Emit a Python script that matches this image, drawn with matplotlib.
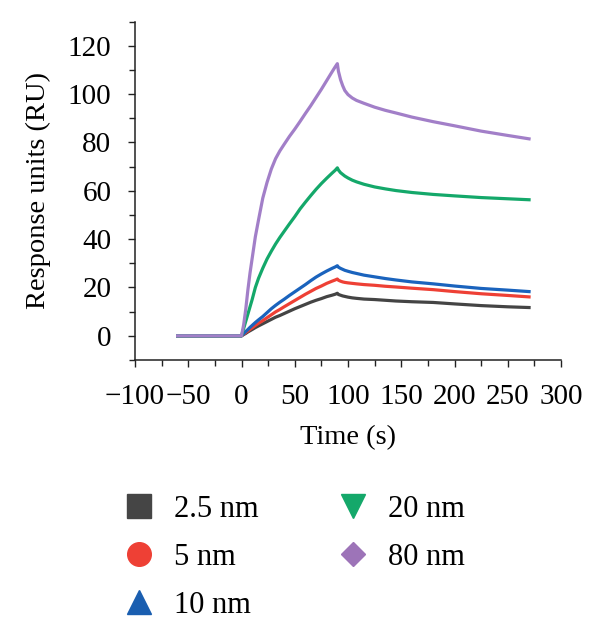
import matplotlib
matplotlib.use('Agg')
import matplotlib.pyplot as plt
from matplotlib.lines import Line2D
from matplotlib.ticker import MultipleLocator

# Sensorgram (time in s, response in RU)
# baseline | association (0-90 s) | dissociation (90-270 s)
time_s = [-60, -45, -30, -15, 0,
          2, 4, 6, 8, 10, 13, 16, 20, 24, 28, 32, 36, 40, 45, 50, 55, 60,
          65, 70, 75, 80, 85, 88, 90,
          91, 93, 95, 97, 100, 104, 108, 115, 125, 135, 145, 160, 180, 200,
          225, 250, 270]

resp_2_5nm = [0, 0, 0, 0, 0,
              0.5, 1, 1.6, 2.1, 2.6, 3.4, 4.1, 5, 5.9, 6.8, 7.7, 8.4, 9.2,
              10.2, 11.2, 12.1, 13, 13.9, 14.7, 15.4, 16.2, 16.8, 17.2, 17.6,
              17.1, 16.8, 16.5, 16.3, 16, 15.7, 15.5, 15.2, 15, 14.7, 14.4,
              14.1, 13.8, 13.2, 12.5, 12, 11.7]

resp_5nm = [0, 0, 0, 0, 0,
            0.7, 1.4, 2, 2.7, 3.3, 4.3, 5.2, 6.3, 7.5, 8.7, 9.9, 10.9, 12,
            13.3, 14.6, 15.9, 17.2, 18.4, 19.6, 20.6, 21.7, 22.6, 23.1, 23.5,
            23, 22.6, 22.3, 22.1, 21.9, 21.7, 21.5, 21.2, 20.9, 20.5, 20.2,
            19.7, 19.1, 18.3, 17.4, 16.7, 16.1]

resp_10nm = [0, 0, 0, 0, 0,
             0.9, 1.8, 2.6, 3.5, 4.3, 5.5, 6.6, 8, 9.6, 11.2, 12.6, 13.9, 15.1,
             16.7, 18.2, 19.7, 21.2, 22.8, 24.3, 25.6, 26.8, 27.9, 28.5, 29,
             28.4, 27.9, 27.5, 27.1, 26.7, 26.2, 25.8, 25.1, 24.4, 23.7, 23.1,
             22.3, 21.5, 20.6, 19.6, 18.9, 18.3]

resp_20nm = [0, 0, 0, 0, 0,
             3, 6, 9, 12, 15, 20, 23.8, 28, 31.8, 35, 38, 40.7, 43.2,
             46.3, 49.3, 52.5, 55.3, 58, 60.6, 63, 65.2, 67.3, 68.5, 69.5,
             68.6, 67.5, 66.8, 66.1, 65.3, 64.4, 63.7, 62.7, 61.6, 60.8, 60.1,
             59.3, 58.5, 57.9, 57.2, 56.7, 56.3]

resp_80nm = [0, 0, 0, 0, 0,
             4.5, 11, 19, 26, 32, 41, 48, 57, 63.5, 69, 73.3, 76.5, 79.2,
             82.5, 85.5, 88.7, 92, 95.2, 98.6, 102, 105.6, 109.2, 111.3, 112.6,
             109.5, 106, 103.5, 101.5, 99.8, 98.4, 97.4, 96.2, 94.6, 93.3, 92.2,
             90.5, 88.6, 86.9, 84.7, 82.9, 81.5]

labels = ['2.5 nm', '5 nm', '10 nm', '20 nm', '80 nm']
line_colors = ['#444444', '#ee4035', '#1a63bd', '#14a86a', '#a27fc8']
marker_colors = ['#454545', '#ee4035', '#1a5eb0', '#14a86a', '#9d74b8']
markers = ['s', 'o', '^', 'v', 'D']


def main():
    plt.rcParams['font.family'] = ['Liberation Serif', 'DejaVu Serif']
    plt.rcParams['font.size'] = 21

    fig = plt.figure(figsize=(6, 6.36), dpi=100)
    ax = fig.add_axes([0.225, 0.434, 0.71, 0.532])

    all_series = [resp_2_5nm, resp_5nm, resp_10nm, resp_20nm, resp_80nm]
    for values, color in zip(all_series, line_colors):
        ax.plot(time_s, values, color=color, linewidth=2.3)

    ax.set_xlim(-100, 300)
    ax.set_ylim(-10, 130)
    ax.xaxis.set_major_locator(MultipleLocator(50))
    ax.xaxis.set_minor_locator(MultipleLocator(25))
    ax.yaxis.set_minor_locator(MultipleLocator(10))
    ax.set_yticks([0, 20, 40, 60, 80, 100, 120])

    # Only left / bottom axis lines
    ax.spines['right'].set_visible(False)
    ax.spines['top'].set_visible(False)
    for side in ['left', 'bottom']:
        ax.spines[side].set_linewidth(1.1)
        ax.spines[side].set_color('#222222')
    ax.tick_params(which='major', length=5, width=1, color='#222222')
    ax.tick_params(which='minor', length=4, width=1, color='#222222')
    ax.tick_params(axis='y', which='major', pad=12)
    ax.tick_params(axis='x', which='major', pad=12)

    ax.set_xlabel('Time (s)', fontsize=20.5, labelpad=11)
    ax.set_ylabel('Response units (RU)', fontsize=20.5, labelpad=12)

    # Marker-only legend below the plot, two columns
    handles = [Line2D([], [], linestyle='none', marker=m, color=c,
                      markersize=17 if m != 'D' else 12.5)
               for m, c in zip(markers, marker_colors)]
    fig.legend(handles, labels, ncol=2, frameon=False, loc='upper left',
               bbox_to_anchor=(0.181, 0.246), fontsize=22,
               handlelength=1.0, handletextpad=0.64,
               columnspacing=2.6, labelspacing=0.62, borderpad=0)

    fig.savefig('out.png', dpi=100)


main()
